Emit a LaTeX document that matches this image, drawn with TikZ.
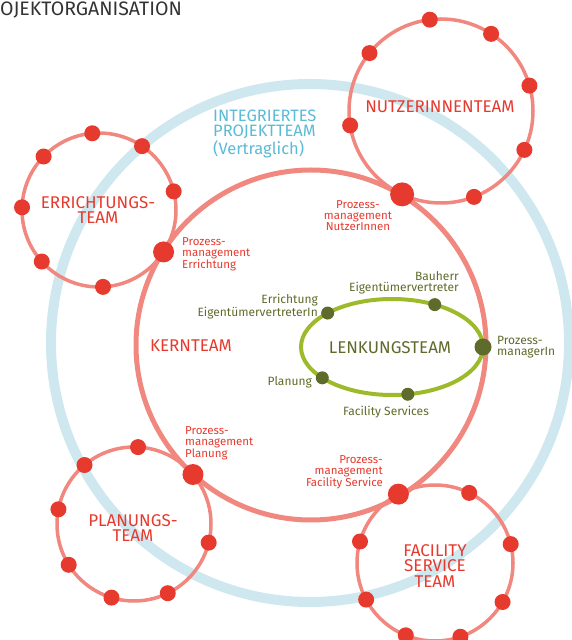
\documentclass[tikz,border=0pt]{standalone}
\usepackage{fontspec}
\setmainfont{Fira Sans}
\usepackage{tikz}

\definecolor{kernrot}{RGB}{240,136,128}
\definecolor{punktrot}{RGB}{230,58,46}
\definecolor{projblau}{RGB}{207,232,240}
\definecolor{textblau}{RGB}{91,186,213}
\definecolor{lenkgruen}{RGB}{157,186,42}
\definecolor{oliv}{RGB}{94,107,43}
\definecolor{titelgrau}{RGB}{51,51,51}

\tikzset{
  teamkreis/.style={draw=kernrot, line width=3.5pt},
  teamtext/.style={text=punktrot, font=\fontsize{17}{15.5}\selectfont, align=center, inner sep=0pt},
  pmtext/.style={text=punktrot, font=\fontsize{11.5}{11}\selectfont, inner sep=0pt},
  lenktext/.style={text=oliv, font=\fontsize{12}{11}\selectfont, inner sep=0pt},
}

\begin{document}
\begin{tikzpicture}[x=1pt,y=1pt]
\useasboundingbox (0,0) rectangle (571,640);
\coordinate (b) at (310,297);
\coordinate (k) at (311,295);
\coordinate (e) at (99,430);
\coordinate (n) at (441,529);
\coordinate (p) at (134,116);
\coordinate (f) at (435,77);
\coordinate (l) at (392,293);
\draw[projblau, line width=10pt] (b) circle (259pt);
\draw[kernrot, line width=5pt] (k) circle (175pt);
\draw[teamkreis] (e) circle (77pt);
\draw[teamkreis] (n) circle (92pt);
\draw[teamkreis] (p) circle (77pt);
\draw[teamkreis] (f) circle (78pt);
\draw[lenkgruen, line width=4pt] (l) ellipse [x radius=91pt, y radius=48pt];
% Teammitglieder
\foreach \w in {95,56,14,-87,-138,178,136}
  \fill[punktrot] (e) ++(\w:77pt) circle (8pt);
\foreach \w in {97,57,16,-25,-69,-171,141}
  \fill[punktrot] (n) ++(\w:92pt) circle (8pt);
\foreach \w in {87,130,169,212,253,296,346}
  \fill[punktrot] (p) ++(\w:77pt) circle (8pt);
\foreach \w in {64,14,-30,-71,-112,-152,164}
  \fill[punktrot] (f) ++(\w:78pt) circle (8pt);
% Prozessmanagement
\fill[punktrot] (e) ++(-33:77pt) circle (10.5pt);
\fill[punktrot] (n) ++(-115:92pt) circle (12pt);
\fill[punktrot] (p) ++(40:77pt) circle (10.5pt);
\fill[punktrot] (f) ++(118:78pt) circle (10.5pt);
% Lenkungsteam
\foreach \w in {135,62,220,280}
  \fill[oliv] (l) ++(\w:91pt and 48pt) circle (6.5pt);
\fill[oliv] (l) ++(0:91pt and 48pt) circle (8.5pt);

\node[anchor=west, text=titelgrau, font=\fontsize{19.5}{19.5}\selectfont, inner sep=0pt] (titel) at (0,630) {OJEKTORGANISATION};
\node[anchor=west, text=textblau, align=left, font=\fontsize{16.5}{15}\selectfont, inner sep=0pt] (projekt) at (213,506) {INTEGRIERTES\\PROJEKTTEAM\\(Vertraglich)};
\node[teamtext] (errteam) at (98,430) {ERRICHTUNGS-\\TEAM};
\node[teamtext] (nutzteam) at (440,533) {NUTZERINNENTEAM};
\node[teamtext] (planteam) at (133,112) {PLANUNGS-\\TEAM};
\node[teamtext] (facteam) at (435,74) {FACILITY\\SERVICE\\TEAM};
\node[teamtext] (kernteam) at (191,294) {KERNTEAM};
\node[teamtext, text=oliv] (lenkteam) at (390,292) {LENKUNGSTEAM};

\node[pmtext, align=center] (pmnutz) at (358,424) {Prozess-\\management\\NutzerInnen};
\node[pmtext, align=left, anchor=west] (pmerr) at (182,386) {Prozess-\\management\\Errichtung};
\node[pmtext, align=left, anchor=west] (pmplan) at (185,197) {Prozess-\\management\\Planung};
\node[pmtext, align=right, anchor=east] (pmfac) at (383,168) {Prozess-\\management\\Facility Service};

\node[lenktext, align=right, anchor=east] (bauherr) at (459,357) {Bauherr\\Eigentümervertreter};
\node[lenktext, align=right, anchor=east] (lerr) at (318,333) {Errichtung\\EigentümervertreterIn};
\node[lenktext, align=left, anchor=west] (lpm) at (497,293) {Prozess-\\managerIn};
\node[lenktext, anchor=east] (lplan) at (312,258) {Planung};
\node[lenktext] (lfac) at (386,228) {Facility Services};
\end{tikzpicture}
\end{document}
